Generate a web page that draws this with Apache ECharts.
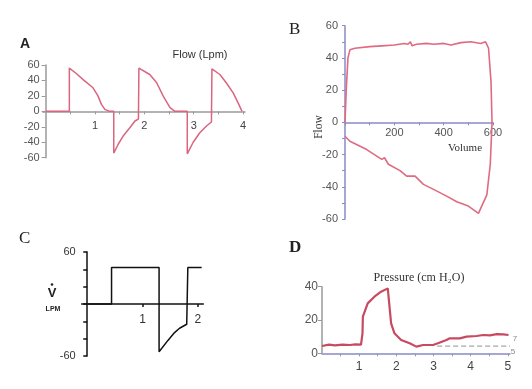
<!DOCTYPE html>
<html><head><meta charset="utf-8">
<script src="https://cdn.jsdelivr.net/npm/echarts@6/dist/echarts.min.js"></script>
<style>html,body{margin:0;padding:0;background:#fff}#c{width:532px;height:389px}</style>
</head><body><div id="c"></div>
<script>
// ---- Panel A: flow (Lpm) vs time (s)
const aTime = [0, 0.48, 0.48, 0.62, 0.76, 0.96, 1.06, 1.13, 1.20, 1.30, 1.38, 1.38, 1.47, 1.57, 1.71, 1.81, 1.88, 1.89, 2.11, 2.25, 2.38, 2.52, 2.62, 2.87, 2.87, 2.99, 3.12, 3.26, 3.36, 3.37, 3.53, 3.66, 3.80, 3.90, 3.98];
const aFlow = [0, 0, 56, 49, 41, 30.5, 20, 9, 2.6, 0, 0, -54, -42.6, -32, -21, -12.5, -10, 56, 47.7, 37, 20, 4.8, 0, 0, -55, -40, -28, -19, -13.8, 55, 47.7, 37, 24, 11, 0];
const aXTicks = [0.5, 1, 1.5, 2, 2.5, 3, 3.5, 4];
const aXLabels = [1, 2, 3, 4];

// ---- Panel B: flow-volume loop
const bVolume = [0, 5, 12, 20, 40, 100, 150, 200, 240, 255, 265, 272, 290, 330, 360, 400, 430, 470, 510, 550, 570, 582, 592, 596, 589, 575, 541, 500, 453, 412, 359, 318, 284, 250, 223, 176, 160, 149, 88, 20, 0];
const bFlow = [0, 20, 40, 45, 46, 47, 47.5, 48, 49, 48.5, 50, 47.5, 48.5, 49, 48.5, 49, 48, 49.5, 50, 49, 50, 46, 25, 0, -26, -45, -56.5, -52, -49.3, -45.8, -41.6, -38.5, -33.4, -33.4, -30, -26, -22, -23, -16.9, -11.7, -8.6];
const bXLabels = [200, 400, 600];

// ---- Panel C: square-wave flow
const cTime = [0, 0.44, 0.44, 1.30, 1.30, 1.46, 1.58, 1.67, 1.80, 1.82, 1.82, 2.07];
const cFlow = [0, 0, 42, 42, -55, -42, -33, -28, -23.4, -23, 42, 42];
const cXLabels = [1, 2];
const cYLabels = [-60, 60];

// ---- Panel D: pressure (cm H2O)
const dTime = [0, 0.19, 0.35, 0.55, 0.75, 0.9, 1.05, 1.09, 1.10, 1.23, 1.41, 1.59, 1.77, 1.86, 1.95, 2.13, 2.36, 2.54, 2.72, 2.99, 3.12, 3.35, 3.44, 3.71, 3.89, 4.16, 4.34, 4.52, 4.70, 4.88, 5.02];
const dPressure = [4.4, 5.2, 4.8, 5.2, 5.0, 5.4, 5.2, 12, 22, 30, 34, 37, 39, 18, 12, 8, 6, 4, 5, 5, 6, 8, 9, 9, 10, 10.4, 11, 10.8, 11.5, 11.4, 11];
const dBaseTime = [3.1, 5.06];
const dBaseP = [4.3, 4.3];
const dXTicks = [0.5, 1, 1.5, 2, 2.5, 3, 3.5, 4, 4.5, 5];
const dXLabels = [1, 2, 3, 4, 5];

const zip = (xs, ys) => xs.map((x, i) => [x, ys[i]]);

const sans = 'Liberation Sans, Arial, sans-serif';
const serif = 'Liberation Serif, Times New Roman, serif';
const grayAxis = '#9a9a9a';
const blueAxis = '#8a8ac8';

// main grids
const gA = {left: 42.7, top: 65, width: 202.3, height: 92.7};
const gB = {left: 345, top: 25.7, width: 148, height: 193.3};
const gC = {left: 81.7, top: 252, width: 121.6, height: 104};
const gD = {left: 322, top: 286.7, width: 188, height: 66.6};
// upper halves (bottom edge = zero line) used to carry x labels beside the zero axis
const upper = g => ({left: g.left, top: g.top, width: g.width, height: g.height / 2});

const labelAxis = (gridIndex, min, max, values, color, size, margin) => ({
  gridIndex, type: 'value', min, max, position: 'bottom', splitLine: {show: false},
  axisLine: {show: false, onZero: false}, axisTick: {show: false},
  axisLabel: {customValues: values, color, fontFamily: sans, fontSize: size, margin}
});
const hiddenY = gridIndex => ({gridIndex, type: 'value', min: -60, max: 60, show: false});

const chart = echarts.init(document.getElementById('c'), null, {renderer: 'canvas'});
chart.setOption({
  backgroundColor: '#fff',
  animation: false,
  grid: [gA, gB, gC, gD, upper(gA), upper(gB), upper(gC)],
  xAxis: [
    {gridIndex: 0, type: 'value', min: -0.06, max: 4.04, splitLine: {show: false},
     axisLine: {onZero: true, lineStyle: {color: grayAxis, width: 1.5}},
     axisTick: {customValues: aXTicks, length: 3, lineStyle: {color: grayAxis}},
     axisLabel: {show: false}},
    {gridIndex: 1, type: 'value', min: 0, max: 600, interval: 100, splitLine: {show: false},
     axisLine: {onZero: true, lineStyle: {color: blueAxis, width: 1.5}},
     axisTick: {length: 3, lineStyle: {color: blueAxis}},
     axisLabel: {show: false}},
    {gridIndex: 2, type: 'value', min: -0.1, max: 2.1, splitLine: {show: false},
     axisLine: {onZero: true, lineStyle: {color: '#111', width: 1.5}},
     axisTick: {customValues: cXLabels, length: 3, lineStyle: {color: '#111', width: 1.5}},
     axisLabel: {show: false}},
    {gridIndex: 3, type: 'value', min: 0, max: 5.06, splitLine: {show: false},
     axisLine: {onZero: true, lineStyle: {color: blueAxis, width: 1.5}},
     axisTick: {customValues: dXTicks, length: 3, lineStyle: {color: grayAxis}},
     axisLabel: {customValues: dXLabels, color: '#444', fontFamily: sans, fontSize: 12, margin: 7}},
    labelAxis(4, -0.06, 4.04, aXLabels, '#444', 11, 9),
    labelAxis(5, 0, 600, bXLabels, '#555', 11, 5),
    labelAxis(6, -0.1, 2.1, cXLabels, '#333', 12, 10)
  ],
  yAxis: [
    {gridIndex: 0, type: 'value', min: -60, max: 60, interval: 20, splitLine: {show: false},
     axisLine: {show: true, lineStyle: {color: grayAxis, width: 1.5}},
     axisTick: {show: true, length: 4, lineStyle: {color: grayAxis}},
     axisLabel: {color: '#555', fontFamily: sans, fontSize: 11, margin: 3}},
    {gridIndex: 1, type: 'value', min: -60, max: 60, interval: 10, splitLine: {show: false},
     axisLine: {show: true, lineStyle: {color: blueAxis, width: 1.5}},
     axisTick: {show: true, length: 3, lineStyle: {color: blueAxis}},
     axisLabel: {color: '#555', fontFamily: sans, fontSize: 11, margin: 7,
       formatter: v => (v % 20 === 0 ? String(v) : '')}},
    {gridIndex: 2, type: 'value', min: -60, max: 60, interval: 20, splitLine: {show: false},
     axisLine: {show: true, lineStyle: {color: '#111', width: 1.5}},
     axisTick: {show: true, length: 4, lineStyle: {color: '#111', width: 1.5}},
     axisLabel: {customValues: cYLabels, color: '#333', fontFamily: sans, fontSize: 11, margin: 6}},
    {gridIndex: 3, type: 'value', min: 0, max: 40, interval: 20, splitLine: {show: false},
     axisLine: {show: true, lineStyle: {color: grayAxis, width: 1.5}},
     axisTick: {show: true, length: 4, lineStyle: {color: grayAxis}},
     axisLabel: {color: '#555', fontFamily: sans, fontSize: 12, margin: 4}},
    hiddenY(4), hiddenY(5), hiddenY(6)
  ],
  series: [
    {type: 'line', xAxisIndex: 0, yAxisIndex: 0, data: zip(aTime, aFlow), showSymbol: false,
     lineStyle: {color: '#d9657f', width: 1.5}},
    {type: 'line', xAxisIndex: 1, yAxisIndex: 1, data: zip(bVolume, bFlow), showSymbol: false,
     lineStyle: {color: '#e06a80', width: 1.6}},
    {type: 'line', xAxisIndex: 2, yAxisIndex: 2, data: zip(cTime, cFlow), showSymbol: false,
     lineStyle: {color: '#111', width: 1.5}},
    {type: 'line', xAxisIndex: 3, yAxisIndex: 3, data: zip(dTime, dPressure), showSymbol: false,
     lineStyle: {color: '#c84a60', width: 2.2}},
    {type: 'line', xAxisIndex: 3, yAxisIndex: 3, data: zip(dBaseTime, dBaseP), showSymbol: false,
     lineStyle: {color: '#a8a8a8', width: 1.2, type: [5, 3]}}
  ],
  graphic: [
    {type: 'text', left: 20, top: 37, style: {text: 'A', font: 'bold 14px ' + sans, fill: '#222'}},
    {type: 'text', x: 200, y: 55, style: {text: 'Flow (Lpm)', font: '11px ' + sans, fill: '#333', align: 'center', verticalAlign: 'middle'}},
    {type: 'text', left: 289, top: 21, style: {text: 'B', font: '17px ' + serif, fill: '#222'}},
    {type: 'text', x: 319, y: 127, rotation: Math.PI / 2, style: {text: 'Flow', font: '11.5px ' + serif, fill: '#333', align: 'center', verticalAlign: 'middle'}},
    {type: 'text', x: 465, y: 148, style: {text: 'Volume', font: '11px ' + serif, fill: '#333', align: 'center', verticalAlign: 'middle'}},
    {type: 'text', left: 19, top: 230, style: {text: 'C', font: '17px ' + serif, fill: '#222'}},
    {type: 'circle', shape: {cx: 52, cy: 284.5, r: 1.3}, style: {fill: '#222'}},
    {type: 'text', x: 52, y: 293.5, style: {text: 'V', font: 'bold 13px ' + sans, fill: '#222', align: 'center', verticalAlign: 'middle'}},
    {type: 'text', x: 53, y: 309, style: {text: 'LPM', font: 'bold 7px ' + sans, fill: '#222', align: 'center', verticalAlign: 'middle'}},
    {type: 'text', left: 289, top: 239, style: {text: 'D', font: 'bold 17px ' + serif, fill: '#222'}},
    {type: 'text', x: 419, y: 278, style: {text: 'Pressure (cm H₂O)', font: '12px ' + serif, fill: '#333', align: 'center', verticalAlign: 'middle'}},
    {type: 'text', x: 515, y: 339, style: {text: '7', font: '8px ' + sans, fill: '#888', align: 'center', verticalAlign: 'middle'}},
    {type: 'text', x: 513, y: 352, style: {text: '5', font: '8px ' + sans, fill: '#888', align: 'center', verticalAlign: 'middle'}}
  ]
});
</script>
</body></html>
